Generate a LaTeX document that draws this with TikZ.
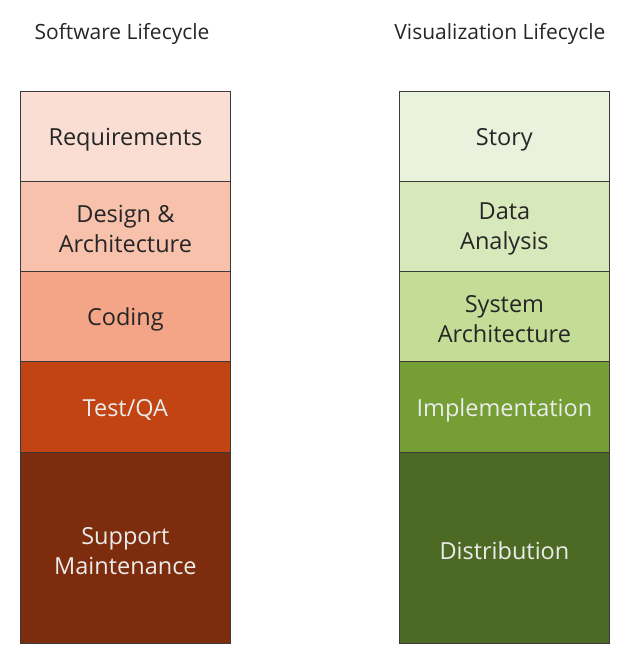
\documentclass[tikz,border=0pt]{standalone}
\usepackage{fontspec}
\setmainfont{Open Sans}
\definecolor{swA}{HTML}{FADED3}
\definecolor{swB}{HTML}{F7C1AB}
\definecolor{swC}{HTML}{F4A487}
\definecolor{swD}{HTML}{C24413}
\definecolor{swE}{HTML}{7D2D0E}
\definecolor{vzA}{HTML}{EAF1DD}
\definecolor{vzB}{HTML}{D7E8BB}
\definecolor{vzC}{HTML}{C3DD97}
\definecolor{vzD}{HTML}{759E34}
\definecolor{vzE}{HTML}{4D6A25}
\definecolor{edge}{HTML}{3A3A3A}
\tikzset{
  x=1pt, y=-1pt,
  stage/.style={draw=edge, line width=0.8pt, minimum width=210pt, inner sep=0pt,
    anchor=north west},
  light/.style={label={[stagetext, text=black!85]center:#1}},
  dark/.style={label={[stagetext, text=white!92!black]center:#1}},
  stagetext/.style={align=center, font=\fontsize{23.5}{30}\selectfont, yshift=-3pt, inner sep=0pt},
  heading/.style={font=\fontsize{21}{24}\selectfont, text=black!85, inner sep=0pt}
}
\begin{document}
\begin{tikzpicture}
\useasboundingbox (0,0) rectangle (630,660);
% column headings
\node[heading] (swt) at (122,34) {Software Lifecycle};
\node[heading] (vzt) at (500,34) {Visualization Lifecycle};
% software lifecycle stages
\node[stage, fill=swA, minimum height=90pt, light={Requirements}] (sw1) at (20,91) {};
\node[stage, fill=swB, minimum height=90pt, light={Design \&\\Architecture}] (sw2) at (20,181) {};
\node[stage, fill=swC, minimum height=90pt, light={Coding}] (sw3) at (20,271) {};
\node[stage, fill=swD, minimum height=91pt, dark={Test/QA}] (sw4) at (20,361) {};
\node[stage, fill=swE, minimum height=191pt, dark={Support\\Maintenance}] (sw5) at (20,452) {};
% visualization lifecycle stages
\node[stage, fill=vzA, minimum height=90pt, light={Story}] (vz1) at (399,91) {};
\node[stage, fill=vzB, minimum height=90pt, light={Data\\Analysis}] (vz2) at (399,181) {};
\node[stage, fill=vzC, minimum height=90pt, light={System\\Architecture}] (vz3) at (399,271) {};
\node[stage, fill=vzD, minimum height=91pt, dark={Implementation}] (vz4) at (399,361) {};
\node[stage, fill=vzE, minimum height=191pt, dark={Distribution}] (vz5) at (399,452) {};
\end{tikzpicture}
\end{document}
